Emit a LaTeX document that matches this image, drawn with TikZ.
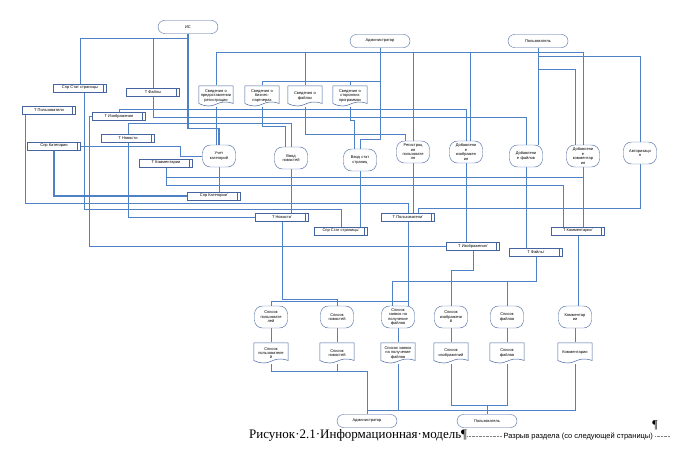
\documentclass[tikz,border=0pt]{standalone}
\usepackage{fontspec}
\setmainfont{Liberation Sans}
\newfontfamily\capfont{Liberation Serif}
\usepackage{tikz}
\definecolor{dfdline}{RGB}{79, 129, 199}
\definecolor{dfdedge}{RGB}{70, 100, 160}
\newcommand\dfdfont{\fontsize{4}{4.4}\selectfont}
\pgfdeclarelayer{bg}
\pgfsetlayers{bg,main}

\tikzset{
  actor/.style={draw=dfdedge, fill=white, rounded corners=6.5pt, minimum width=60pt, minimum height=13pt, inner sep=0pt, font=\dfdfont},
  store/.style={draw=dfdedge, fill=white, minimum width=53pt, minimum height=7.5pt, inner sep=0pt, font=\dfdfont,
    path picture={\draw[dfdedge] ([xshift=-3pt]path picture bounding box.north east) -- ([xshift=-3pt]path picture bounding box.south east);}},
  proc/.style={draw=dfdedge, fill=white, rounded corners=8pt, minimum width=33pt, minimum height=22pt, text width=31pt, align=center, inner sep=0pt, font=\dfdfont},
  docbox/.style={fill=white, minimum width=35pt, minimum height=21pt, text width=34pt, align=center, inner sep=0pt, font=\dfdfont,
    path picture={\draw[dfdedge, fill=white, line width=0.5pt]
      ([shift={(0.3pt,-0.3pt)}]path picture bounding box.north west) --
      ([shift={(-0.3pt,-0.3pt)}]path picture bounding box.north east) --
      ([shift={(-0.3pt,3pt)}]path picture bounding box.south east) .. controls
      ([shift={(-17.5pt,9pt)}]path picture bounding box.south east) and
      ([shift={(17.5pt,-5pt)}]path picture bounding box.south west) ..
      ([shift={(0.3pt,3pt)}]path picture bounding box.south west) -- cycle;}},
  link/.style={draw=dfdline, line width=0.8pt},
}

\begin{document}
\begin{tikzpicture}[x=1pt, y=-1pt]
\useasboundingbox (0,0) rectangle (693,460);

% Sources
\node[actor] (is) at (188,27) {ИС};
\node[actor] (adm) at (380,41) {Администратор};
\node[actor] (usr) at (538,41) {Пользователь};
\node[actor] (admB) at (367,421) {Администратор};
\node[actor] (usrB) at (487,421) {Пользователь};

% Stores, first level
\node[store] (sss) at (80,88) {Спр Стат страницы};
\node[store] (tfile) at (153,92) {Т Файлы};
\node[store] (tuser) at (49,110) {Т Пользователи};
\node[store] (timg) at (119,116) {Т Изображения};
\node[store] (tnews) at (128,138) {Т Новости};
\node[store] (scat) at (54,146) {Спр Категории};
\node[store] (tcomm) at (166,163) {Т Комментарии};

% Incoming documents
\node[docbox] (d1) at (216,96) {Сведения о\\предоставлении\\регистрации};
\node[docbox] (d2) at (262,96) {Сведения о\\бизнес-\\партнерах};
\node[docbox] (d3) at (305,96) {Сведения о\\файлах};
\node[docbox] (d4) at (350,96) {Сведения о\\сторонних\\программах};

% Processes
\node[proc] (pcat) at (219,156) {Учет\\категорий};
\node[proc] (pnews) at (291,158) {Ввод\\новостей};
\node[proc] (ppage) at (360,160) {Ввод стат\\страниц};
\node[proc] (preg) at (413,152) {Регистрац\\ия\\пользовате\\ля};
\node[proc] (pimg) at (466,152) {Добавлени\\е\\изображен\\ия};
\node[proc] (pfile) at (526,156) {Добавлени\\е файлов};
\node[proc] (pcomm) at (583,156) {Добавлени\\е\\комментар\\ия};
\node[proc] (pauth) at (640,153) {Авторизаци\\я};

% Stores, second level
\node[store] (scat2) at (214,196) {Спр Категории'};
\node[store] (tnews2) at (282,217) {Т Новости'};
\node[store] (sss2) at (341,231) {Спр Стат страницы'};
\node[store] (tuser2) at (408,217) {Т Пользователи'};
\node[store] (timg2) at (473,246) {Т Изображения'};
\node[store] (tcomm2) at (578,231) {Т Комментарии'};
\node[store] (tfile2) at (536,252) {Т Файлы'};

% Reports
\node[proc] (l1) at (271,317) {Список\\пользовате\\лей};
\node[proc] (l2) at (337,317) {Список\\новостей};
\node[proc] (l3) at (398,317) {Список\\заявок на\\получение\\файлов};
\node[proc] (l4) at (451,317) {Список\\изображени\\й};
\node[proc] (l5) at (507,317) {Список\\файлов};
\node[proc] (l6) at (575,317) {Комментар\\ии};

\node[docbox] (o1) at (271,353) {Список\\пользователе\\й};
\node[docbox] (o2) at (337,353) {Список\\новостей};
\node[docbox] (o3) at (398,353) {Список заявок\\на получение\\файлов};
\node[docbox] (o4) at (451,353) {Список\\изображений};
\node[docbox] (o5) at (507,353) {Список\\файлов};
\node[docbox] (o6) at (575,353) {Комментарии};

\begin{pgfonlayer}{bg}
% ИС
\draw[link] (is.south) -- ++(0,5) -| (sss.north);
\draw[link] (is.south) -- ++(0,5) -| (tfile.north);
\draw[link, line width=1.2pt] (is.south) -- ++(0,95) -| (pcat.north);
% left stores
\draw[link] ([xshift=-24pt]tuser.south) -- ++(0,89) -| (tuser2.north);
\draw[link] ([xshift=4pt]sss.south) -- ++(0,117) -| (sss2.north);
\draw[link] (tfile.south) -- ++(0,21) -| (pfile.north);
\draw[link] (timg.north) -- ++(0,-3) -| (pimg.north);
\draw[link] (tnews.north) -- ++(0,-11) -| (pnews.north);
\draw[link] (scat.east) -- ++(100,0) |- (pcat.west);
\draw[link, line width=1.2pt] (scat.south) |- (scat2.west);
\draw[link] (tnews.south) |- (tnews2.west);
\draw[link] (timg.west) -- ++(-3,0) |- (timg2.west);
\draw[link] (tcomm.south) -- ++(0,18) -| ([xshift=-15pt]tcomm2.north);
\draw[link] (tcomm.south) -- ++(0,10) -| (pcomm.south);
% Администратор
\draw[link] (adm.south) -- ++(0,5) -| (d1.north);
\draw[link] (adm.south) -- ++(0,5) -| (d3.north);
\draw[link] (adm.south) -- ++(0,5) -| (preg.north);
\draw[link] (adm.south) -- ++(0,5) -| ([xshift=4pt]pimg.north);
\draw[link] (adm.south) -- ++(0,5) -| (pcomm.north);
\draw[link] (adm.south) -- ++(0,34) -| (d2.north);
\draw[link] (adm.south) -- ++(0,34) -| (d4.north);
\draw[link] (adm.south) -- ++(0,92) -| (ppage.north);
% Пользователь
\draw[link] (usr) -- (usr |- pfile.north);
\draw[link] (usr.south) -- ++(0,9) -| (pauth.north);
\draw[link] (usr.south) -- ++(0,22) -| ([xshift=-8pt]pcomm.north);
% documents to processes
\draw[link] (d1) -- (d1 |- pcat.north);
\draw[link] (d2.south) -- ++(0,20) -| ([xshift=-6pt]pnews.north);
\draw[link] (d3.south) -- ++(0,28) -| ([xshift=-8pt]preg.north);
\draw[link] (d4.south) -- ++(0,14) -| ([xshift=-6pt]ppage.north);
% processes to stores
\draw[link] (pcat) -- (pcat |- scat2.north);
\draw[link] (pnews) -- (pnews |- tnews2.north);
\draw[link] (ppage) -- (ppage |- sss2.north);
\draw[link] (preg) -- (preg |- tuser2.north);
\draw[link] (pimg) -- (pimg |- timg2.north);
\draw[link] (pfile) -- (pfile |- tfile2.north);
\draw[link] (pcomm) -- (pcomm |- tcomm2.north);
\draw[link] (pauth.south) -- ++(0,44) -| ([xshift=10pt]tuser2.north);
% stores to reports
\draw[link] (tuser2.south) -- ++(0,80) -| (l1.north);
\draw[link] (tnews2.south) -- ++(0,78) -| (l2.north);
\draw[link] (tuser2.south) -- (tuser2.south |- l3.north);
\draw[link] (timg2.south) -- ++(0,20) -| (l4.north);
\draw[link] (tfile2.south) -- ++(0,25) -| (l5.north);
\draw[link] (tfile2.south) -- ++(0,25) -| ([xshift=-6pt]l3.north);
\draw[link] (tcomm2) -- (tcomm2 |- l6.north);
\foreach \i in {1,...,6}
  \draw[link] (l\i) -- (o\i);
% reports to receivers
\draw[link] (o1.south) -- ++(0,8) -| (admB.north);
\draw[link] (o2.south) -- ++(0,8) -| (admB.north);
\draw[link] (o6.south) -- ++(0,47) -| (admB.north);
\draw[link] (o3.south) -- ++(0,47) -| (usrB.north);
\draw[link] (o4.south) -- ++(0,42) -| (usrB.north);
\draw[link] (o5.south) -- ++(0,42) -| (usrB.north);
\end{pgfonlayer}

% Caption
\node[anchor=base west, inner sep=0pt, font=\capfont\fontsize{13}{13}\selectfont] (cap) at (249,438) {Рисунок·2.1·Информационная·модель¶};
\node[anchor=base west, inner sep=0pt, font=\fontsize{7.5}{7.5}\selectfont] (brk) at ([xshift=36pt]cap.base east) {Разрыв раздела (со следующей страницы)};
\draw[densely dotted, gray] ([yshift=2pt]cap.base east) -- ([yshift=2pt,xshift=-2pt]brk.base west);
\draw[densely dotted, gray] ([yshift=2pt,xshift=2pt]brk.base east) -- ++(15,0);
\node[font=\capfont\fontsize{12}{12}\selectfont] (pil) at (655,425) {¶};
\end{tikzpicture}
\end{document}
